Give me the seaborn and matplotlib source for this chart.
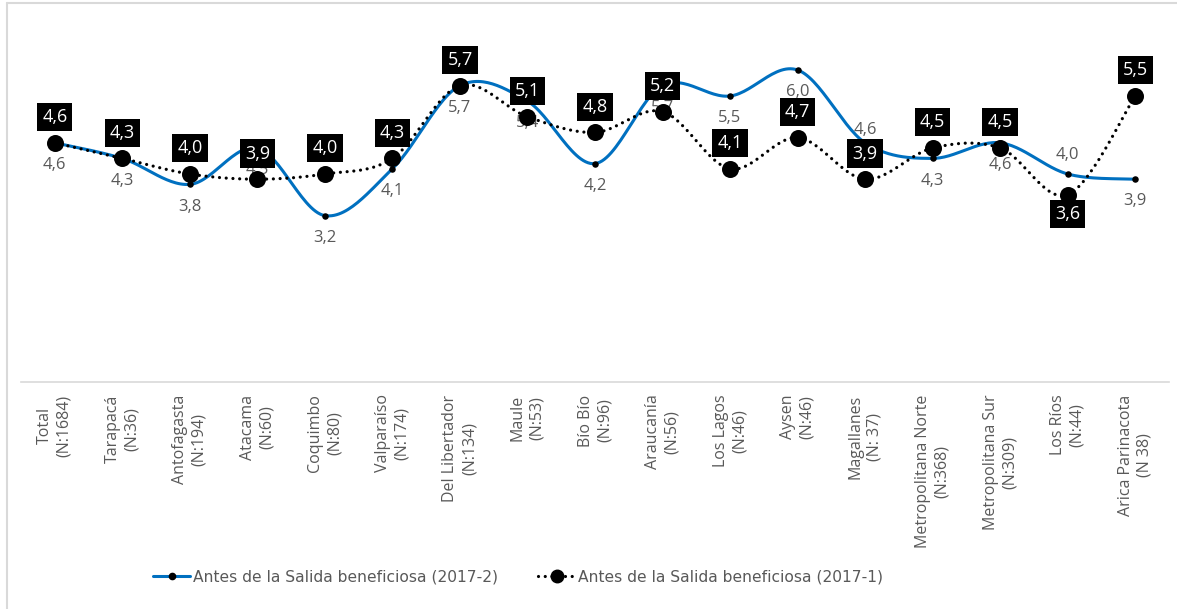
import numpy as np
import pandas as pd
import matplotlib
matplotlib.use("Agg")
import matplotlib.pyplot as plt
from matplotlib.lines import Line2D
import seaborn as sns

# Data
regions = ["Total\n(N:1684)", "Tarapacá\n(N:36)", "Antofagasta\n(N:194)", "Atacama\n(N:60)",
           "Coquimbo\n(N:80)", "Valparaíso\n(N:174)", "Del Libertador\n(N:134)", "Maule\n(N:53)",
           "Bío Bío\n(N:96)", "Araucanía\n(N:56)", "Los Lagos\n(N:46)", "Aysen\n(N:46)",
           "Magallanes\n(N: 37)", "Metropolitana Norte\n(N:368)", "Metropolitana Sur\n(N:309)",
           "Los Ríos\n(N:44)", "Arica Parinacota\n(N 38)"]
antes_2017_2 = [4.6, 4.3, 3.8, 4.5, 3.2, 4.1, 5.7, 5.4, 4.2, 5.7, 5.5, 6.0, 4.6, 4.3, 4.6, 4.0, 3.9]
antes_2017_1 = [4.6, 4.3, 4.0, 3.9, 4.0, 4.3, 5.7, 5.1, 4.8, 5.2, 4.1, 4.7, 3.9, 4.5, 4.5, 3.6, 5.5]

label_2017_2 = "Antes de la Salida beneficiosa (2017-2)"
label_2017_1 = "Antes de la Salida beneficiosa (2017-1)"

# label placement: 1 above the point, -1 below
pos_2017_2 = [-1] * 17
pos_2017_2[12] = 1
pos_2017_2[15] = 1
pos_2017_1 = [1] * 17
pos_2017_1[15] = -1

BLUE = "#0070C0"
GRAY = "#595959"


def smooth(y, n=30):
    # Excel-like smoothed line (Catmull-Rom bezier through the points)
    y = np.asarray(y, dtype=float)
    x = np.arange(len(y), dtype=float)
    px = np.concatenate([[x[0]], x, [x[-1]]])
    py = np.concatenate([[y[0]], y, [y[-1]]])
    xs, ys = [], []
    t = np.linspace(0, 1, n)
    for i in range(1, len(px) - 2):
        p0 = np.array([px[i], py[i]])
        p3 = np.array([px[i + 1], py[i + 1]])
        p1 = p0 + (np.array([px[i + 1], py[i + 1]]) - np.array([px[i - 1], py[i - 1]])) / 6
        p2 = p3 - (np.array([px[i + 2], py[i + 2]]) - np.array([px[i], py[i]])) / 6
        b = ((1 - t) ** 3)[:, None] * p0 + (3 * (1 - t) ** 2 * t)[:, None] * p1 \
            + (3 * (1 - t) * t ** 2)[:, None] * p2 + (t ** 3)[:, None] * p3
        xs.extend(b[:, 0])
        ys.extend(b[:, 1])
    return np.array(xs), np.array(ys)


sns.set_style("white")
plt.rcParams["font.family"] = ["Open Sans", "DejaVu Sans"]

fig = plt.figure(figsize=(11.77, 6.09), dpi=100)
ax = fig.add_axes([21 / 1177, 1 - 382 / 609, (1169 - 21) / 1177, (382 - 18) / 609])

x = np.arange(len(regions))

# blue series
sx, sy = smooth(antes_2017_2)
sns.lineplot(x=sx, y=sy, ax=ax, color=BLUE, linewidth=2.2, sort=False, estimator=None, zorder=2)
sns.scatterplot(x=x, y=antes_2017_2, ax=ax, color="black", s=22, linewidth=0, zorder=3)

# blue labels (gray text)
for i, v in enumerate(antes_2017_2):
    off = 14 if pos_2017_2[i] > 0 else -16
    if i == 12:
        off = 9
    ax.annotate(f"{v:.1f}".replace(".", ","), (i, v), xytext=(0, off), textcoords="offset points",
                ha="center", va="center", fontsize=12, color=GRAY, zorder=4)

# black dotted series
sx, sy = smooth(antes_2017_1)
sns.lineplot(x=sx, y=sy, ax=ax, color="black", linewidth=2.3, sort=False, estimator=None,
             linestyle=(0, (0.01, 2.1)), dash_capstyle="round", zorder=5)
sns.scatterplot(x=x, y=antes_2017_1, ax=ax, color="black", s=150, linewidth=0, zorder=6)

for i, v in enumerate(antes_2017_1):
    off = 18.5 if pos_2017_1[i] > 0 else -14
    ax.annotate(f"{v:.1f}".replace(".", ","), (i, v), xytext=(0, off), textcoords="offset points",
                ha="center", va="center", fontsize=13, color="white", zorder=8,
                bbox=dict(boxstyle="square,pad=0.28", fc="black", ec="none"))

ax.set_xlim(-0.5, len(regions) - 0.5)
ax.set_ylim(0, 7)
ax.set_xticks(x)
ax.set_xticklabels(regions, rotation=90, fontsize=11.5, color=GRAY, multialignment="center",
                   linespacing=1.25)
ax.tick_params(axis="x", length=0, pad=9)
ax.set_yticks([])
ax.set_xlabel("")
ax.set_ylabel("")
for s in ["top", "right", "left"]:
    ax.spines[s].set_visible(False)
ax.spines["bottom"].set_color("#D9D9D9")
ax.spines["bottom"].set_linewidth(1.2)
if ax.get_legend():
    ax.get_legend().remove()

# legend
handles = [
    Line2D([], [], color=BLUE, linewidth=2.2, marker="o", markersize=4.5,
           markerfacecolor="black", markeredgecolor="black"),
    Line2D([], [], color="black", linewidth=2.3, linestyle=(0, (0.01, 2.1)), dash_capstyle="round",
           marker="o", markersize=9, markerfacecolor="black", markeredgecolor="black"),
]
fig.legend(handles, [label_2017_2, label_2017_1], loc="center", bbox_to_anchor=(0.44, 1 - 577 / 609),
           ncol=2, frameon=False, handlelength=2.4, handletextpad=0.15, columnspacing=2.6,
           prop={"family": ["Liberation Sans Narrow", "DejaVu Sans"], "size": 11.2},
           labelcolor=GRAY)

# chart frame (left and top edges of the cropped Excel chart)
fig.add_artist(Line2D([7 / 1177, 7 / 1177], [0, 1 - 3 / 609], transform=fig.transFigure,
                      color="#D9D9D9", linewidth=1.5))
fig.add_artist(Line2D([7 / 1177, 1], [1 - 3 / 609, 1 - 3 / 609], transform=fig.transFigure,
                      color="#D9D9D9", linewidth=1.5))

fig.savefig("out.png", dpi=100)
